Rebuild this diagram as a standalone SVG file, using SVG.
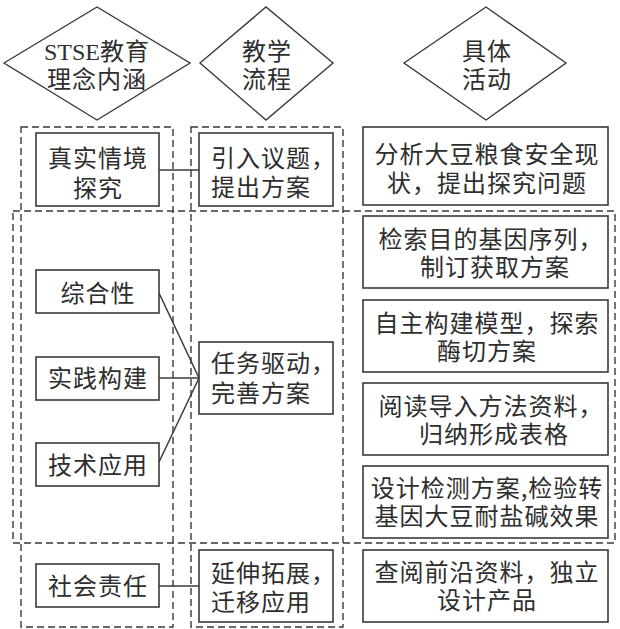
<svg xmlns="http://www.w3.org/2000/svg" width="620" height="629" viewBox="0 0 620 629">
<style>
text{font-family:"Noto Sans CJK SC","Noto Sans",sans-serif;font-size:24px;letter-spacing:1px;fill:#2e2e2e}
.lat{font-family:"Liberation Serif","Noto Sans CJK SC",serif;letter-spacing:0}
.m{text-anchor:middle}
.box{fill:#fff;stroke:#3a3a3a;stroke-width:1.6}
.dia{fill:#fff;stroke:#3a3a3a;stroke-width:1.4}
.dash{fill:none;stroke:#3a3a3a;stroke-width:1.4;stroke-dasharray:7 4}
.con{stroke:#3a3a3a;stroke-width:1.5;fill:none}
</style>
<rect width="620" height="629" fill="#fff"/>
<g id="frames">
<rect class="dash" x="21" y="127" width="152" height="500"/>
<rect class="dash" x="191" y="127" width="152" height="500"/>
<rect class="dash" x="13" y="211" width="602" height="332"/>
</g>
<g id="h1"><polygon class="dia" points="4,63 97,7 190,63 97,120"/>
<text class="m" x="97" y="60"><tspan class="lat" font-size="24">STSE</tspan>教育</text>
<text class="m" x="97" y="88">理念内涵</text></g>
<g id="h2"><polygon class="dia" points="200,63 266,7 333,63 266,120"/>
<text class="m" x="267" y="60">教学</text><text class="m" x="267" y="88">流程</text></g>
<g id="h3"><polygon class="dia" points="404,63 486,7 566,63 486,120"/>
<text class="m" x="487" y="60">具体</text><text class="m" x="487" y="88">活动</text></g>
<g id="connectors">
<line class="con" x1="159" y1="170" x2="199" y2="170"/>
<line class="con" x1="159" y1="293" x2="199" y2="378"/>
<line class="con" x1="159" y1="378" x2="199" y2="378"/>
<line class="con" x1="159" y1="462" x2="199" y2="378"/>
<line class="con" x1="159" y1="586" x2="199" y2="586"/>
</g>
<g id="a1"><rect class="box" x="36" y="133" width="123" height="73"/>
<text class="m" x="98" y="167">真实情境</text><text class="m" x="98" y="197">探究</text></g>
<g id="a2"><rect class="box" x="36" y="270" width="123" height="43"/><text class="m" x="98" y="302">综合性</text></g>
<g id="a3"><rect class="box" x="36" y="357" width="123" height="43"/><text class="m" x="98" y="387">实践构建</text></g>
<g id="a4"><rect class="box" x="36" y="443" width="123" height="43"/><text class="m" x="98" y="474">技术应用</text></g>
<g id="a5"><rect class="box" x="36" y="564" width="123" height="43"/><text class="m" x="98" y="595">社会责任</text></g>
<g id="b1"><rect class="box" x="199" y="133" width="134" height="73"/>
<text x="211" y="167">引入议题，</text><text x="211" y="196">提出方案</text></g>
<g id="b2"><rect class="box" x="199" y="342" width="134" height="72"/>
<text x="211" y="372">任务驱动，</text><text x="211" y="402">完善方案</text></g>
<g id="b3"><rect class="box" x="199" y="550" width="134" height="72"/>
<text x="211" y="582">延伸拓展，</text><text x="211" y="611">迁移应用</text></g>
<g id="c1"><rect class="box" x="363" y="127" width="245" height="78"/>
<text class="m" x="487" y="163">分析大豆粮食安全现</text><text class="m" x="487" y="192">状，提出探究问题</text></g>
<g id="c2"><rect class="box" x="363" y="216" width="245" height="72"/>
<text class="m" x="491" y="248">检索目的基因序列，</text><text class="m" x="495" y="276">制订获取方案</text></g>
<g id="c3"><rect class="box" x="363" y="300" width="245" height="72"/>
<text class="m" x="487" y="332">自主构建模型，探索</text><text class="m" x="487" y="360">酶切方案</text></g>
<g id="c4"><rect class="box" x="363" y="383" width="245" height="72"/>
<text class="m" x="491" y="415">阅读导入方法资料，</text><text class="m" x="494" y="443">归纳形成表格</text></g>
<g id="c5"><rect class="box" x="363" y="466" width="245" height="72"/>
<text class="m" x="487" y="497">设计检测方案,检验转</text><text class="m" x="487" y="525">基因大豆耐盐碱效果</text></g>
<g id="c6"><rect class="box" x="363" y="550" width="245" height="72"/>
<text class="m" x="487" y="581">查阅前沿资料，独立</text><text class="m" x="487" y="609">设计产品</text></g>
</svg>
